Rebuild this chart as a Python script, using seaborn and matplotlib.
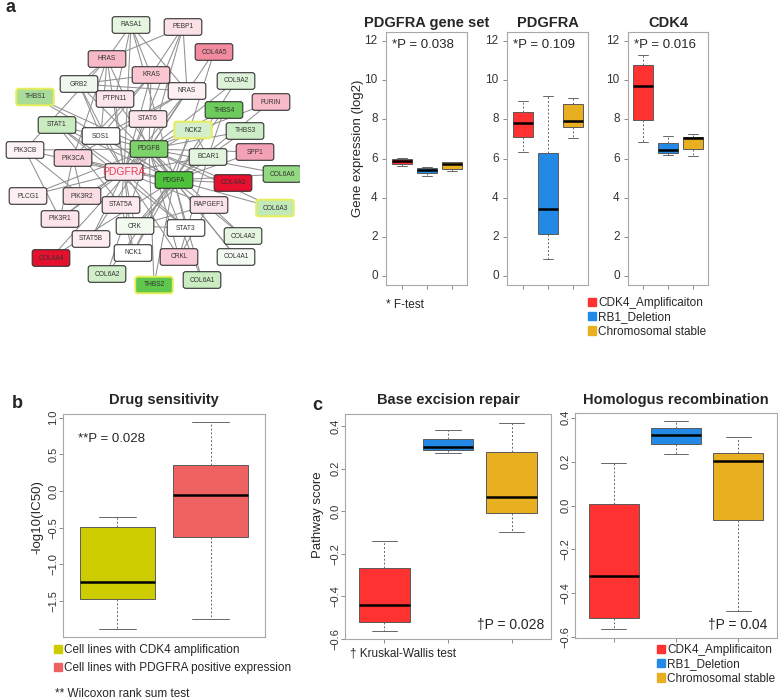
import numpy as np
import pandas as pd
import matplotlib
matplotlib.use('Agg')
import matplotlib.pyplot as plt
from matplotlib.patches import FancyBboxPatch, Patch
import seaborn as sns

# ---- data ----
groups3 = ['CDK4_Amplificaiton', 'RB1_Deletion', 'Chromosomal stable']
colors3 = ['#FF3232', '#2289E6', '#E8B021']

# five-number summaries: whisker low, q1, median, q3, whisker high
pdgfra_set_stats = [[5.62, 5.74, 5.87, 6.00, 6.03],
                    [5.10, 5.26, 5.40, 5.51, 5.58],
                    [5.34, 5.45, 5.70, 5.80, 5.82]]
pdgfra_stats = [[6.33, 7.08, 7.81, 8.37, 8.92],
                [0.87, 2.13, 3.40, 6.30, 9.17],
                [7.05, 7.59, 7.90, 8.80, 9.10]]
cdk4_stats = [[6.83, 7.95, 9.70, 10.80, 11.27],
              [6.16, 6.30, 6.45, 6.79, 7.15],
              [6.13, 6.49, 7.03, 7.08, 7.23]]
a_titles = ['PDGFRA gene set', 'PDGFRA', 'CDK4']
a_pvals = ['*P = 0.038', '*P = 0.109', '*P = 0.016']

drug_groups = ['Cell lines with CDK4 amplification', 'Cell lines with PDGFRA positive expression']
drug_colors = ['#CCCC00', '#EE6262']
drug_stats = [[-1.88, -1.477, -1.236, -0.495, -0.355],
              [-1.745, -0.623, -0.05, 0.355, 0.94]]

ber_stats = [[-0.565, -0.524, -0.44, -0.268, -0.141],
             [0.273, 0.287, 0.303, 0.342, 0.381],
             [-0.099, -0.009, 0.069, 0.278, 0.416]]
hr_stats = [[-0.564, -0.512, -0.321, 0.006, 0.194],
            [0.236, 0.279, 0.323, 0.355, 0.386],
            [-0.482, -0.064, 0.203, 0.239, 0.312]]

# network nodes: name, fill colour, highlighted border
node_names = ['RASA1', 'PEBP1', 'COL4A5', 'HRAS', 'KRAS', 'GRB2', 'COL9A2', 'NRAS', 'THBS1',
              'PTPN11', 'FURIN', 'THBS4', 'STAT6', 'STAT1', 'NCK2', 'THBS3', 'SOS1', 'PDGFB',
              'PIK3CB', 'SPP1', 'PIK3CA', 'BCAR1', 'PDGFRA', 'COL6A6', 'PDGFA', 'COL4A3',
              'PLCG1', 'PIK3R2', 'STAT5A', 'RAPGEF1', 'COL6A3', 'PIK3R1', 'CRK', 'STAT3',
              'COL4A2', 'STAT5B', 'NCK1', 'CRKL', 'COL4A4', 'COL4A1', 'COL6A2', 'COL6A1', 'THBS2']
node_colors = ['#E6F5E0', '#FBE0E6', '#F28AA0', '#F7B9C8', '#F9C6D2', '#F0F8EE', '#DDF2D8',
               '#FDF0F3', '#A8DC98', '#FCE6EB', '#F7BBC9', '#6CCB5A', '#FCE4EA', '#C8EBC0',
               '#D3EFCB', '#CDEDC6', '#FFFFFF', '#7DD36A', '#FDF2F5', '#F3A2B5', '#FAD3DD',
               '#E4F5DF', '#FCE5EB', '#93D982', '#4DC23A', '#E8102E', '#FDF0F3', '#FADCE3',
               '#FDE8ED', '#FBE3EA', '#C2EAB8', '#FCE4EA', '#F2FAF0', '#FFFFFF', '#E6F5E1',
               '#FDEDF1', '#FFFFFF', '#F9C9D5', '#E5102E', '#F4FBF2', '#D0EEC8', '#CBECC3',
               '#5FC84C']
node_flagged = ['THBS1', 'NCK2', 'COL6A3', 'THBS2']

# network layout (pixel space of the panel)
node_xy = [(131, 25), (183, 27), (214, 52), (107, 59), (151, 75), (79, 84), (236, 81),
           (187, 91), (35, 97), (115, 99), (271, 102), (224, 110), (148, 119), (57, 125),
           (193, 130), (245, 131), (101, 136), (149, 149), (25, 150), (255, 152), (73, 158),
           (208, 157), (124, 172), (282, 174), (174, 180), (233, 183), (28, 196), (82, 196),
           (121, 205), (209, 205), (275, 208), (60, 219), (135, 226), (186, 228), (243, 236),
           (91, 239), (133, 253), (179, 257), (51, 258), (236, 257), (107, 274), (202, 280),
           (154, 285)]

links = {
    'PDGFRA': ['PIK3CB', 'PIK3CA', 'PIK3R1', 'PIK3R2', 'PLCG1', 'STAT1', 'STAT5A', 'STAT5B',
               'STAT3', 'STAT6', 'SOS1', 'GRB2', 'PTPN11', 'HRAS', 'KRAS', 'NRAS', 'RASA1',
               'CRK', 'CRKL', 'NCK1', 'NCK2', 'BCAR1', 'RAPGEF1', 'PDGFA', 'PDGFB', 'PEBP1'],
    'PDGFA': ['COL4A1', 'COL4A2', 'COL4A3', 'COL4A4', 'COL4A5', 'COL6A1', 'COL6A2', 'COL6A3',
              'COL6A6', 'COL9A2', 'THBS1', 'THBS2', 'THBS3', 'THBS4', 'FURIN', 'SPP1', 'PDGFB',
              'STAT3', 'CRK', 'NCK1', 'GRB2', 'SOS1', 'PIK3CA', 'PTPN11', 'RASA1', 'STAT1'],
    'PDGFB': ['COL4A1', 'COL4A2', 'COL4A3', 'COL4A4', 'COL6A1', 'COL6A2', 'COL6A3', 'COL6A6',
              'COL9A2', 'THBS1', 'THBS2', 'THBS3', 'THBS4', 'FURIN', 'SPP1', 'COL4A5', 'PLCG1',
              'STAT1', 'STAT5B', 'CRKL', 'NRAS', 'KRAS', 'HRAS', 'PIK3R1', 'PIK3CB', 'PEBP1'],
    'RASA1': ['HRAS', 'KRAS', 'NRAS', 'PTPN11'],
    'PEBP1': ['HRAS', 'KRAS', 'NRAS'],
    'SOS1': ['HRAS', 'KRAS', 'NRAS', 'GRB2'],
    'GRB2': ['HRAS', 'KRAS', 'PTPN11', 'NRAS'],
    'PIK3CA': ['HRAS', 'KRAS', 'NRAS', 'PIK3R1', 'PIK3R2'],
    'PIK3CB': ['PIK3R1', 'PIK3R2', 'HRAS'],
    'CRK': ['RAPGEF1', 'BCAR1', 'STAT3'],
    'CRKL': ['RAPGEF1', 'BCAR1'],
    'NCK1': ['NCK2', 'STAT5A'],
    'STAT1': ['STAT3', 'STAT5A'],
    'BCAR1': ['NCK2', 'THBS4'],
}

# ---- style ----
sns.set_theme(style='white')
plt.rcParams['font.family'] = ['Liberation Sans', 'DejaVu Sans']

W, H = 778, 700
fig = plt.figure(figsize=(W / 100, H / 100), dpi=100)


def rect(x0, y0, x1, y1):
    return [x0 / W, 1 - y1 / H, (x1 - x0) / W, (y1 - y0) / H]


def ftext(x, y, s, **kw):
    kw.setdefault('va', 'center')
    return fig.text(x / W, 1 - y / H, s, **kw)


def draw_boxes(ax, stats, labels, colors, ylim, yticks, ytl, rot=0, xticks=True):
    df = pd.DataFrame({'group': np.repeat(labels, 5), 'value': np.concatenate(stats)})
    sns.boxplot(data=df, x='group', y='value', hue='group', order=labels, hue_order=labels,
                palette=colors, legend=False, whis=(0, 100), width=0.8, saturation=1,
                linecolor='#5a5a5a', linewidth=0.7, showfliers=False,
                medianprops=dict(color='black', linewidth=1.8),
                whiskerprops=dict(linestyle=(0, (2, 2)), color='#666666'),
                capprops=dict(color='#666666'), ax=ax)
    n = len(labels)
    ax.set_xlim(-0.62, n - 1 + 0.62)
    ax.set_ylim(*ylim)
    ax.set_xlabel('')
    ax.set_ylabel('')
    if xticks:
        ax.set_xticks(range(n))
        ax.set_xticklabels([])
    else:
        ax.set_xticks([])
    ax.set_yticks(yticks)
    if rot:
        # R style: labels parallel to the axis
        ax.set_yticklabels(ytl, rotation=90, rotation_mode='anchor', ha='center',
                           va='bottom', color='#333333', fontsize=8)
    else:
        ax.set_yticklabels(ytl, va='center', color='#333333', fontsize=8.5)
    ax.tick_params(axis='both', direction='out', length=3, width=0.6, colors='#777777',
                   left=True, bottom=xticks, labelcolor='#333333',
                   pad=0.5 if rot else 3)
    for sp in ax.spines.values():
        sp.set_color('#A8A8A8')
        sp.set_linewidth(0.8)


# ---- panel a: network ----
ax_net = fig.add_axes(rect(0, 0, 300, 300))
ax_net.set_xlim(0, 300)
ax_net.set_ylim(300, 0)
ax_net.axis('off')
pos = dict(zip(node_names, node_xy))
for a, nbrs in links.items():
    for b in nbrs:
        ax_net.plot([pos[a][0], pos[b][0]], [pos[a][1], pos[b][1]], color='#909090',
                    lw=0.75, zorder=1)
for name, col, (x, y) in zip(node_names, node_colors, node_xy):
    flagged = name in node_flagged
    ax_net.add_patch(FancyBboxPatch((x - 18, y - 7.5), 36, 15,
                                    boxstyle='round,pad=0.8,rounding_size=2.5',
                                    fc=col, ec='#E8EE5A' if flagged else '#333333',
                                    lw=1.4 if flagged else 0.8, zorder=2))
    if name == 'PDGFRA':
        ax_net.text(x, y, name, ha='center', va='center', fontsize=7.5, color='#E8405A', zorder=3)
    else:
        ax_net.text(x, y, name, ha='center', va='center', fontsize=4.8, color='#333333', zorder=3)

ftext(6, 8, 'a', fontsize=13, fontweight='bold')

# ---- panel a: boxplots ----
a_rects = [(386, 32, 467, 285), (507, 32, 588, 285), (628, 32, 708, 285)]
a_stats = [pdgfra_set_stats, pdgfra_stats, cdk4_stats]
for r, st, title, pv in zip(a_rects, a_stats, a_titles, a_pvals):
    ax = fig.add_axes(rect(*r))
    draw_boxes(ax, st, groups3, colors3, (-0.46, 12.46), range(0, 13, 2),
               [str(v) for v in range(0, 13, 2)])
    ftext((r[0] + r[2]) / 2, 23, title, ha='center', fontsize=10.5, fontweight='bold')
    ftext(r[0] + 6, 45, pv, fontsize=9.5)
ftext(358, 148, 'Gene expression (log2)', ha='center', rotation=90, fontsize=9.5)
ftext(386, 305, '* F-test', fontsize=8.5)
fig.legend(handles=[Patch(color=c, label=g) for g, c in zip(groups3, colors3)],
           loc='upper left', bbox_to_anchor=(588 / W, 1 - 297 / H), frameon=False,
           borderpad=0, borderaxespad=0, handlelength=0.7, handleheight=0.7,
           handletextpad=0.15, labelspacing=0.2, fontsize=8.5)

# ---- panel b ----
ax_b = fig.add_axes(rect(63, 414, 265, 637))
draw_boxes(ax_b, drug_stats, drug_groups, drug_colors, (-1.99, 1.05),
           [-1.5, -1.0, -0.5, 0.0, 0.5, 1.0],
           ['\u22121.5', '\u22121.0', '\u22120.5', '0.0', '0.5', '1.0'],
           rot=90, xticks=False)
ax_b.set_xlim(-0.58, 1.58)
ftext(12, 404, 'b', fontsize=13, fontweight='bold')
ftext(164, 400, 'Drug sensitivity', ha='center', fontsize=10.5, fontweight='bold')
ftext(78, 439, '**P = 0.028', fontsize=9.5)
ftext(37, 517, '-log10(IC50)', ha='center', rotation=90, fontsize=9.5)
fig.legend(handles=[Patch(color=c, label=g) for g, c in zip(drug_groups, drug_colors)],
           loc='upper left', bbox_to_anchor=(54 / W, 1 - 644 / H), frameon=False,
           borderpad=0, borderaxespad=0, handlelength=0.7, handleheight=0.7,
           handletextpad=0.15, labelspacing=0.5, fontsize=8.5)
ftext(55, 694, '** Wilcoxon rank sum test', fontsize=8.5)

# ---- panel c ----
c_ticks = [-0.6, -0.4, -0.2, 0.0, 0.2, 0.4]
c_ticklabels = ['\u22120.6', '\u22120.4', '\u22120.2', '0.0', '0.2', '0.4']
ax_c1 = fig.add_axes(rect(345, 414, 551, 639))
draw_boxes(ax_c1, ber_stats, groups3, colors3, (-0.602, 0.458), c_ticks, c_ticklabels, rot=90)
ax_c2 = fig.add_axes(rect(575, 413, 777, 638))
draw_boxes(ax_c2, hr_stats, groups3, colors3, (-0.603, 0.421), c_ticks, c_ticklabels, rot=90)
ftext(312, 405, 'c', fontsize=13, fontweight='bold')
ftext(448, 400, 'Base excision repair', ha='center', fontsize=10.5, fontweight='bold')
ftext(676, 400, 'Homologus recombination', ha='center', fontsize=10.5, fontweight='bold')
ftext(318, 515, 'Pathway score', ha='center', rotation=90, fontsize=9.5)
ftext(544, 625, '\u2020P = 0.028', ha='right', fontsize=10)
ftext(767, 625, '\u2020P = 0.04', ha='right', fontsize=10)
ftext(350, 653, '\u2020 Kruskal-Wallis test', fontsize=8.5)
fig.legend(handles=[Patch(color=c, label=g) for g, c in zip(groups3, colors3)],
           loc='upper left', bbox_to_anchor=(657 / W, 1 - 644 / H), frameon=False,
           borderpad=0, borderaxespad=0, handlelength=0.7, handleheight=0.7,
           handletextpad=0.15, labelspacing=0.2, fontsize=8.5)

fig.savefig('out.png', dpi=100)
